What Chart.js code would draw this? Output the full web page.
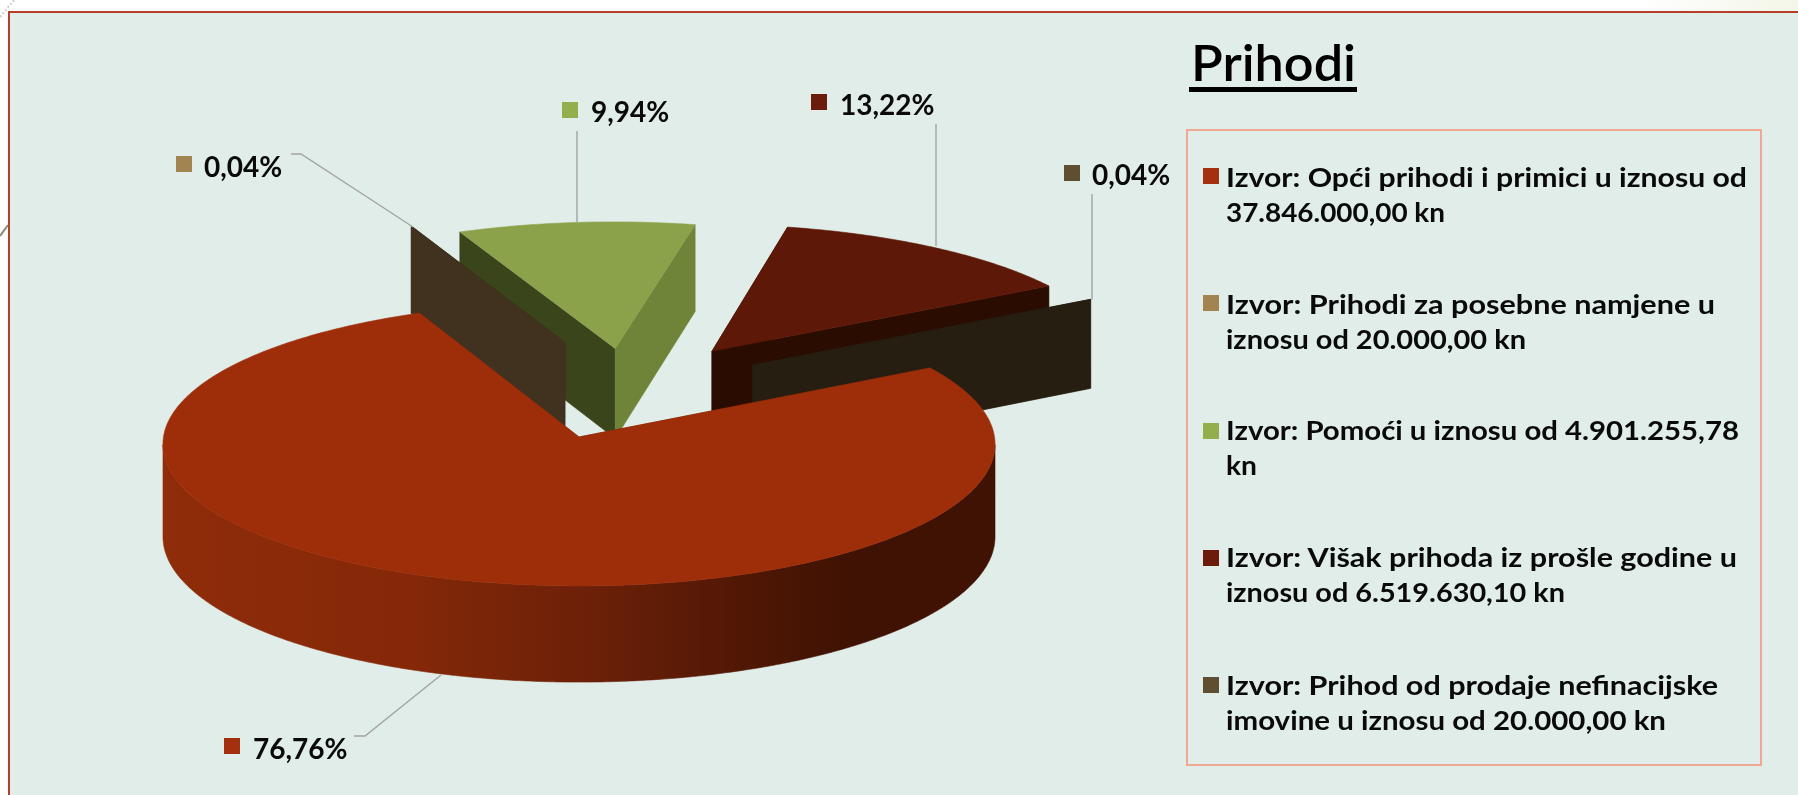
<!DOCTYPE html>
<html lang="hr">
<head>
<meta charset="utf-8">
<title>Prihodi</title>
<script src="https://cdn.jsdelivr.net/npm/chart.js@4"></script>
<style>
html,body{margin:0;padding:0;background:#fff;width:1798px;height:795px;overflow:hidden}
#glow{position:absolute;left:1640px;top:0;width:158px;height:12px;background:linear-gradient(90deg,#fff,#f3f6e8)}
#panel{position:absolute;left:8px;top:11px;width:1790px;height:784px;background:#e1ede8;border-left:2px solid #b5402a;border-top:2px solid #b5402a;box-sizing:border-box}
canvas{position:absolute;left:0;top:0}
#title{position:absolute;left:1189px;top:36.5px;width:168px;font:600 50px/50px Lato,sans-serif;color:#000;border-bottom:5px solid #000;white-space:nowrap}
#title span{display:inline-block;margin-left:2px;transform-origin:left center}
#box{position:absolute;left:1186px;top:129px;width:576px;height:637px;box-sizing:border-box;border:2px solid #f0a793}
.it{position:absolute;left:1226px;font:700 27px/34.5px Lato,sans-serif;color:#0a0a0a;white-space:pre;transform-origin:left top}
.sw{position:absolute;left:1203px;width:16px;height:16px}
</style>
</head>
<body>
<div id="glow"></div>
<div id="panel"></div>
<canvas id="c" width="1798" height="795"></canvas>
<div id="title"><span>Prihodi</span></div>
<div id="box"></div>
<script>
const categories = [
  "Izvor: Opći prihodi i primici u iznosu od\n37.846.000,00 kn",
  "Izvor: Prihodi za posebne namjene u\niznosu od 20.000,00 kn",
  "Izvor: Pomoći u iznosu od 4.901.255,78\nkn",
  "Izvor: Višak prihoda iz prošle godine u\niznosu od 6.519.630,10 kn",
  "Izvor: Prihod od prodaje nefinacijske\nimovine u iznosu od 20.000,00 kn"
];
const amounts = [37846000.00, 20000.00, 4901255.78, 6519630.10, 20000.00];
const swatchColors = ["#a5300f", "#a28450", "#94ae4d", "#6b1c0b", "#5f4e30"];
const topColors = ["#9e2e0a", "#40321e", "#8ba14a", "#5e1807", "#271e12"];
const startWallColors = ["#6f2209", "#40321e", "#3b451c", "#2b0c00", "#271e12"];
const endWallColors = ["#6f2209", "#40321e", "#6f8339", "#2b0c00", "#271e12"];

// Exploded slice displacement, in units of the pie radius on the pie's own plane.
const explode = [[0, 0], [-0.035, -0.69], [0.09, -0.645], [0.33, -0.625], [0.4285, -0.52]];
const paintOrder = [2, 1, 3, 4, 0];

// Camera: centre, radii, perspective strength, extrusion height.
const view = { cx: 579, cy: 437, A: 415.5, B: 141.5, k: 0.05, D: 92.3, depthPower: 0.8 };
function project(u, v, z) {
  const s = 1 / (1 - view.k * v);
  return [view.cx + view.A * u * s, view.cy + view.B * v * s + view.D * (z || 0) * Math.pow(s, view.depthPower)];
}

// Data label placement: swatch, text start, text centre line, leader polyline.
const labelLayout = [
  { sw: [224, 738], tx: 253, ty: 750, lead: [[354, 736], [365, 736], [441, 675]] },
  { sw: [176, 156], tx: 204, ty: 168, lead: [[291, 154], [301, 154], [413, 227]] },
  { sw: [562, 102], tx: 591, ty: 113, lead: [[577, 131], [577, 222]] },
  { sw: [811, 94], tx: 840, ty: 106, lead: [[936, 124], [936, 246]] },
  { sw: [1064, 165], tx: 1092, ty: 176, lead: [[1092, 194], [1092, 300]] }
];

function poly(ctx, pts, fill) {
  ctx.beginPath();
  pts.forEach((p, i) => i ? ctx.lineTo(p[0], p[1]) : ctx.moveTo(p[0], p[1]));
  ctx.closePath();
  ctx.fillStyle = fill;
  ctx.strokeStyle = fill;
  ctx.lineWidth = 0.6;
  ctx.fill();
  ctx.stroke();
}

const pie3d = {
  id: 'pie3d',
  beforeDatasetDraw(chart) {
    const ctx = chart.ctx;
    const arcs = chart.getDatasetMeta(0).data;
    paintOrder.forEach(i => {
      const { startAngle: a0, endAngle: a1 } = arcs[i].getProps(['startAngle', 'endAngle'], true);
      const [ou, ov] = explode[i];
      const n = Math.max(2, Math.ceil((a1 - a0) / (Math.PI / 360)));
      const rim = [];
      const frontTop = [], frontBot = [];
      for (let j = 0; j <= n; j++) {
        const a = a0 + (a1 - a0) * j / n;
        rim.push([ou + Math.cos(a), ov + Math.sin(a)]);
        if (Math.sin(a) >= view.k) {
          frontTop.push(project(rim[j][0], rim[j][1], 0));
          frontBot.push(project(rim[j][0], rim[j][1], 1));
        }
      }
      const top = rim.map(p => project(p[0], p[1], 0));
      const bot = rim.map(p => project(p[0], p[1], 1));
      const at = project(ou, ov, 0), ab = project(ou, ov, 1);
      if (frontTop.length > 1) {
        const g = ctx.createLinearGradient(163, 0, 995, 0);
        g.addColorStop(0, '#8f2c0a');
        g.addColorStop(0.30, '#842808');
        g.addColorStop(0.52, '#6b2008');
        g.addColorStop(0.70, '#501705');
        g.addColorStop(0.82, '#401203');
        g.addColorStop(1, '#401203');
        poly(ctx, frontTop.concat(frontBot.reverse()), g);
      }
      poly(ctx, [at, top[0], bot[0], ab], startWallColors[i]);
      poly(ctx, [at, top[n], bot[n], ab], endWallColors[i]);
      poly(ctx, [at].concat(top), topColors[i]);
    });
    return false;
  },
  afterDatasetsDraw(chart) {
    const ctx = chart.ctx;
    const total = amounts.reduce((a, b) => a + b, 0);
    ctx.save();
    labelLayout.forEach((l, i) => {
      ctx.beginPath();
      l.lead.forEach((p, j) => j ? ctx.lineTo(p[0], p[1]) : ctx.moveTo(p[0], p[1]));
      ctx.strokeStyle = '#a3a3a3';
      ctx.lineWidth = 1.4;
      ctx.stroke();
      ctx.fillStyle = swatchColors[i];
      ctx.fillRect(l.sw[0], l.sw[1], 16, 16);
      ctx.fillStyle = '#0a0a0a';
      ctx.font = '700 28px Lato, sans-serif';
      ctx.textBaseline = 'middle';
      ctx.textAlign = 'left';
      ctx.fillText((amounts[i] / total * 100).toFixed(2).replace('.', ',') + '%', l.tx, l.ty);
    });
    // stray slide-decoration fragments at the left edge
    ctx.strokeStyle = '#8d8672';
    ctx.lineWidth = 2;
    ctx.beginPath(); ctx.moveTo(0, 236); ctx.lineTo(8, 225); ctx.stroke();
    ctx.strokeStyle = '#cfcfcf';
    ctx.setLineDash([2, 2]);
    ctx.beginPath(); ctx.moveTo(0, 17); ctx.lineTo(14, 0); ctx.stroke();
    ctx.restore();
  }
};

new Chart(document.getElementById('c'), {
  type: 'pie',
  data: { labels: categories, datasets: [{ data: amounts, backgroundColor: topColors, borderWidth: 0 }] },
  options: {
    responsive: false,
    animation: false,
    rotation: 60,
    plugins: { legend: { display: false }, tooltip: { enabled: false }, title: { display: false } }
  },
  plugins: [pie3d]
});

// Legend: text block tops, swatch tops, measured line widths of the reference lettering.
const itemTops = [160, 287, 413, 540, 668];
const swatchTops = [168, 295, 423, 550, 677];
const lineWidths = [[521, 219], [489, 300], [513, 31], [511, 339], [492, 440]];
categories.forEach((t, i) => {
  t.split('\n').forEach((line, k) => {
    const d = document.createElement('div');
    d.className = 'it';
    d.textContent = line;
    d.style.top = (itemTops[i] + k * 34.5) + 'px';
    document.body.appendChild(d);
    d.style.transform = 'scaleX(' + (lineWidths[i][k] / d.getBoundingClientRect().width) + ')';
  });
  const s = document.createElement('div');
  s.className = 'sw'; s.style.background = swatchColors[i];
  s.style.top = swatchTops[i] + 'px';
  document.body.appendChild(s);
});
const titleSpan = document.querySelector('#title span');
titleSpan.style.transform = 'scaleX(' + (165 / titleSpan.getBoundingClientRect().width) + ')';
</script>
</body>
</html>
